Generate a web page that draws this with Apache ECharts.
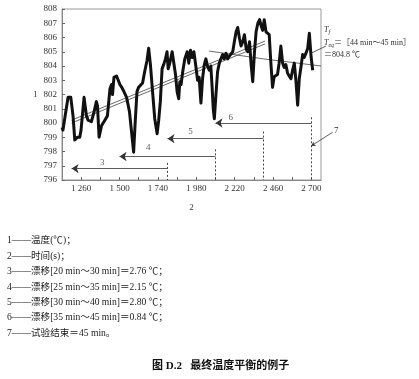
<!DOCTYPE html>
<html><head><meta charset="utf-8">
<script src="https://cdn.jsdelivr.net/npm/echarts@6/dist/echarts.min.js"></script>
<style>html,body{margin:0;padding:0;background:#fff}#c{width:419px;height:379px}</style>
</head><body><div id="c"></div>
<script>
// ---- data ----
const timeS = [1140,1146,1161,1178,1195,1209,1220,1236,1251,1259,1278,1293,1303,1324,1341,1355,1362,1372,1387,1408,1424,1440,1450,1456,1465,1481,1492,1502,1514,1523,1544,1553,1562,1573,1588,1598,1609,1619,1644,1657,1672,1682,1693,1703,1720,1735,1745,1755,1766,1776,1787,1797,1804,1814,1829,1850,1860,1870,1877,1885,1895,1908,1923,1933,1944,1954,1965,1977,1988,1998,2009,2019,2030,2040,2050,2061,2071,2078,2086,2093,2103,2113,2124,2134,2145,2155,2166,2176,2187,2197,2208,2218,2229,2239,2250,2260,2271,2281,2292,2302,2313,2323,2333,2344,2354,2365,2376,2386,2395,2405,2416,2426,2436,2446,2457,2467,2478,2488,2498,2509,2520,2530,2540,2551,2561,2572,2582,2593,2603,2614,2624,2635,2645,2655,2666,2677,2687,2698,2708];
const tempC = [799.7,799.5,800.6,801.8,801.8,800.5,798.8,799.0,799.0,799.5,801.8,800.5,800.2,800.1,800.8,801.5,801.2,799.0,799.8,800.2,800.5,802.4,802.7,802.0,803.2,803.3,803.0,802.7,802.5,802.3,801.8,801.8,800.8,800.8,797.95,800.1,802.2,802.5,802.8,803.6,804.4,805.25,804.1,802.7,800.3,799.25,800.2,801.5,803.8,804.1,804.5,805.0,803.8,804.2,805.0,803.4,802.2,801.7,802.9,802.7,803.6,804.5,805.0,804.2,805.1,804.6,805.0,804.0,803.0,803.2,801.4,803.1,804.1,804.5,804.0,803.7,804.0,802.7,801.0,800.3,802.0,803.6,804.2,804.5,804.8,804.5,804.9,804.5,804.7,804.8,805.0,805.7,806.4,806.7,805.95,805.4,805.7,806.2,805.2,805.0,805.7,804.1,802.9,805.0,806.4,807.0,807.25,806.8,806.5,807.25,806.4,806.3,806.2,804.3,802.5,803.25,803.3,803.4,804.2,805.4,804.2,803.9,804.1,803.5,803.3,803.1,803.7,804.2,803.0,801.25,803.1,803.95,804.8,804.6,804.9,805.25,806.3,804.65,803.7];

const xTickValues = [1260,1380,1500,1620,1740,1860,1980,2100,2220,2340,2460,2580,2700];
const xLabelValues = [1260,1500,1740,1980,2220,2460,2700];

// regression / trend lines
const trendA1 = [[1200,800.2],[2410,805.75]];
const trendA2 = [[1200,800.0],[2410,805.55]];
const trendF = [[2060,805.05],[2400,804.5],[2760,804.0]];

// drift arrows (3..6)
const driftNames = ['3','4','5','6'];
const driftFrom = [1800,2100,2400,2700];
const driftTo = [1200,1500,1800,2100];
const driftY = [796.8,797.65,798.9,800.0];
const dashTop = [797.2,798.15,799.4,800.4];
const driftLabelX = [1391,1680,1944,2195];
const driftLabelY = [797.22,798.28,799.41,800.4];

// leader lines
const leaderEq = [[2698,804.9],[2792,805.4]];
const leader7 = [[2700,798.4],[2833,799.35]];

const legendLines = [
  '1——温度(℃)；',
  '2——时间(s)；',
  '3——漂移[20 min～30 min]＝2.76 ℃；',
  '4——漂移[25 min～35 min]＝2.15 ℃；',
  '5——漂移[30 min～40 min]＝2.80 ℃；',
  '6——漂移[35 min～45 min]＝0.84 ℃；',
  '7——试验结束＝45 min。'
];
const caption = '图 D.2   最终温度平衡的例子';

// ---- chart ----
const FONT = '"Liberation Serif", "Noto Sans CJK SC", serif';
const fmt = v => String(v).replace(/\B(?=(\d{3})+(?!\d))/g, ' ');

const arrowData = driftFrom.map((f, i) => ({coords: [[f, driftY[i]], [driftTo[i], driftY[i]]]}));
const dashData = driftFrom.map((f, i) => ({coords: [[f, dashTop[i]], [f, 796]]}));
const labelData = driftNames.map((n, i) => ({name: n, value: [driftLabelX[i], driftLabelY[i]]}));

const graphics = legendLines.map((t, i) => ({
  type: 'text', left: 7, top: 236 + i * 15.4,
  style: {text: t, font: '9.6px ' + FONT, fill: '#222'}
}));
graphics.push({type: 'text', left: 152, top: 361, style: {text: caption, font: 'bold 11px ' + FONT, fill: '#111'}});
graphics.push({type: 'text', left: 324, top: 26, style: {
  text: '{i|T}{s|f}', rich: {i: {fontStyle: 'italic', fontSize: 8, fontFamily: FONT, fill: '#333'}, s: {fontSize: 6, fontFamily: FONT, fontStyle: 'italic', padding: [4, 0, 0, 0], fill: '#333'}}
}});
graphics.push({type: 'text', left: 324, top: 39, style: {
  text: '{i|T}{s|eq}{n|＝［44 min～45 min］}', rich: {i: {fontStyle: 'italic', fontSize: 8, fontFamily: FONT, fill: '#333'}, s: {fontSize: 6, fontFamily: FONT, fontStyle: 'italic', padding: [4, 0, 0, 0], fill: '#333'}, n: {fontSize: 8, fontFamily: FONT, fill: '#333'}}
}});
graphics.push({type: 'text', left: 324, top: 51, style: {text: '＝804.8 ℃', font: '8px ' + FONT, fill: '#333'}});
graphics.push({type: 'text', left: 334, top: 126, style: {text: '7', font: '9px ' + FONT, fill: '#333'}});

const chart = echarts.init(document.getElementById('c'), null, {renderer: 'canvas'});
chart.setOption({
  animation: false,
  backgroundColor: '#fff',
  textStyle: {fontFamily: FONT},
  grid: {left: 62, right: 98, top: 9, bottom: 199, show: true, borderColor: '#999', borderWidth: 1},
  xAxis: {
    type: 'value', min: 1140, max: 2760,
    name: '2', nameLocation: 'middle', nameGap: 23,
    nameTextStyle: {fontSize: 9, color: '#333', fontFamily: FONT},
    axisLine: {show: true, lineStyle: {color: '#888'}},
    axisTick: {show: true, inside: true, length: 3, customValues: xTickValues, lineStyle: {color: '#666'}},
    axisLabel: {customValues: xLabelValues, formatter: fmt, fontSize: 9, color: '#333', margin: 4, fontFamily: FONT},
    splitLine: {show: false}
  },
  yAxis: {
    type: 'value', min: 796, max: 808, interval: 1,
    name: '1', nameLocation: 'middle', nameGap: 24, nameRotate: 0,
    nameTextStyle: {fontSize: 9, color: '#333', fontFamily: FONT},
    axisLine: {show: true, lineStyle: {color: '#888'}},
    axisTick: {show: true, inside: true, length: 3, lineStyle: {color: '#666'}},
    axisLabel: {fontSize: 9, color: '#333', margin: 5, fontFamily: FONT},
    splitLine: {show: false}
  },
  series: [
    {type: 'line', data: trendA1, symbol: 'none', lineStyle: {color: '#444', width: 0.8}, z: 3},
    {type: 'line', data: trendA2, symbol: 'none', lineStyle: {color: '#444', width: 0.8}, z: 3},
    {type: 'line', data: trendF, symbol: 'none', lineStyle: {color: '#444', width: 0.8}, z: 3},
    {type: 'line', data: timeS.map((t, i) => [t, tempC[i]]), symbol: 'none',
     lineStyle: {color: '#111', width: 3, join: 'round'}, z: 4},
    {type: 'lines', coordinateSystem: 'cartesian2d', data: arrowData, symbol: ['none', 'arrow'], symbolSize: [4, 7],
     lineStyle: {color: '#333', width: 0.8, opacity: 1}, z: 5},
    {type: 'lines', coordinateSystem: 'cartesian2d', data: dashData, symbol: 'none',
     lineStyle: {color: '#444', width: 1, type: [2, 2], opacity: 1}, z: 5},
    {type: 'lines', coordinateSystem: 'cartesian2d', clip: false, data: [{coords: leaderEq}], symbol: 'none',
     lineStyle: {color: '#333', width: 0.8, opacity: 1}, z: 6},
    {type: 'lines', coordinateSystem: 'cartesian2d', clip: false, data: [{coords: leader7}], symbol: ['arrow', 'none'], symbolSize: [4, 7],
     lineStyle: {color: '#333', width: 0.8, opacity: 1}, z: 6},
    {type: 'scatter', data: labelData, symbolSize: 0, silent: true,
     label: {show: true, formatter: p => p.name, position: 'inside', fontSize: 9, color: '#333', fontFamily: FONT}, z: 6}
  ],
  graphic: graphics
});
</script>
</body></html>
